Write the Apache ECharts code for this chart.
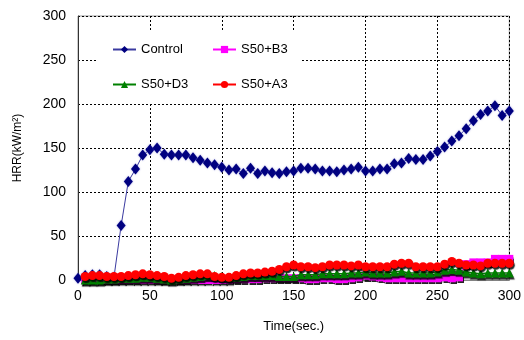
<!DOCTYPE html>
<html>
<head>
<meta charset="utf-8">
<script src="https://cdn.jsdelivr.net/npm/echarts@6/dist/echarts.min.js"></script>
<style>
  html, body { margin: 0; padding: 0; background: #fff; }
  #chart { width: 524px; height: 340px; }
</style>
</head>
<body>
<div id="chart"></div>
<script>
// time axis (sec.)
const time = [
  0, 5, 10, 15, 20, 25, 30, 35, 40, 45,
  50, 55, 60, 65, 70, 75, 80, 85, 90, 95,
  100, 105, 110, 115, 120, 125, 130, 135, 140, 145,
  150, 155, 160, 165, 170, 175, 180, 185, 190, 195,
  200, 205, 210, 215, 220, 225, 230, 235, 240, 245,
  250, 255, 260, 265, 270, 275, 280, 285, 290, 295,
  300
]

const control = [
  2, 5, 6, 6, 4, 3, 62, 112, 126, 142,
  148, 150, 143, 142, 142, 142, 139, 136, 133, 131,
  128, 125, 126, 121, 127, 121, 124, 122, 121, 123,
  124, 127, 127, 126, 124, 124, 123, 125, 126, 128,
  124, 124, 126, 126, 132, 133, 138, 137, 137, 141,
  146, 151, 158, 164, 172, 181, 188, 192, 198, 187,
  192
]

const s50b3 = [
  null, 0, 0, 0, 0, 0, 0, 0, 0, 0,
  0, 0, 0, 0, 0, 0, 0, 0, 0, 0,
  0, 0, 1, 1, 1, 1, 2, 2, 2, 2,
  2, 2, 1, 1, 2, 2, 1, 1, 2, 3,
  5, 4, 3, 2, 2, 2, 2, 2, 2, 2,
  2, 3, 2, 3, 18, 20, 20, 20, 24, 24,
  24
]

const s50d3 = [
  null, 0, 0, 0, 1, 1, 2, 2, 2, 3,
  3, 2, 1, 0, 1, 2, 3, 4, 5, 5,
  4, 3, 3, 4, 5, 5, 5, 5, 4, 4,
  4, 6, 6, 6, 7, 7, 7, 7, 8, 8,
  9, 8, 8, 8, 9, 10, 8, 8, 8, 8,
  9, 11, 12, 11, 9, 8, 7, 8, 8, 8,
  8
]

const s50a3 = [
  null, 4, 5, 5, 4, 4, 4, 5, 6, 7,
  6, 5, 4, 2, 3, 5, 6, 7, 7, 4,
  3, 3, 5, 7, 8, 8, 9, 10, 12, 15,
  17, 15, 15, 14, 15, 17, 17, 17, 16, 17,
  15, 15, 15, 15, 18, 19, 19, 15, 15, 15,
  15, 18, 21, 19, 17, 17, 16, 19, 19, 19,
  19
]

const yTicks = [0, 50, 100, 150, 200, 250, 300]

function pairs(vals) {
  return time.map((t, i) => [t, vals[i] == null ? '-' : vals[i]])
}

const shadow = {
  shadowColor: 'rgba(0,0,0,0.85)',
  shadowOffsetX: 1,
  shadowOffsetY: 2,
  shadowBlur: 1
}

const chart = echarts.init(document.getElementById('chart'), null, { renderer: 'canvas' })

const font = 'Liberation Sans, Arial, sans-serif'

// two legend columns, white boxes cover the grid lines like the original
function legendCol(left, names) {
  return {
    orient: 'vertical',
    left: left,
    top: 32,
    padding: [11, 14],
    itemGap: 22,
    itemWidth: 23,
    itemHeight: 9,
    backgroundColor: '#fff',
    textStyle: { fontFamily: font, fontSize: 13, color: '#000' },
    data: names
  }
}

const option = {
  animation: false,
  backgroundColor: '#fff',
  grid: {
    left: 78, right: 13, top: 16, bottom: 60,
    show: true,
    borderColor: '#999',
    borderWidth: 1
  },
  legend: [
    legendCol(98, ['Control', 'S50+D3']),
    legendCol(198, ['S50+B3', 'S50+A3'])
  ],
  xAxis: {
    type: 'value',
    min: 0, max: 300, interval: 50,
    name: 'Time(sec.)',
    nameLocation: 'middle',
    nameGap: 40,
    nameTextStyle: { fontFamily: font, fontSize: 13, color: '#000' },
    axisLine: { show: true, lineStyle: { color: '#888', width: 1 } },
    axisTick: { show: false },
    axisLabel: { fontFamily: font, fontSize: 14, color: '#000', margin: 9 },
    splitLine: { show: true, lineStyle: { color: '#000', type: [2, 2], width: 1 } }
  },
  yAxis: {
    type: 'value',
    min: yTicks[0], max: yTicks[yTicks.length - 1], interval: 50,
    name: 'HRR(kW/m²)',
    nameLocation: 'middle',
    nameGap: 54,
    nameRotate: 90,
    nameTextStyle: { fontFamily: font, fontSize: 12, color: '#000' },
    axisLine: { show: true, lineStyle: { color: '#333', width: 1 } },
    axisTick: { show: false },
    axisLabel: { fontFamily: font, fontSize: 14, color: '#000', margin: 12 },
    splitLine: { show: true, lineStyle: { color: '#000', type: [2, 2], width: 1 } }
  },
  series: [
    {
      name: 'Control',
      type: 'line',
      data: pairs(control),
      symbol: 'diamond',
      symbolSize: [9, 11],
      color: '#000080',
      lineStyle: { width: 1, color: '#3a3aa0' },
      itemStyle: { color: '#000080', shadowColor: 'rgba(90,90,200,0.6)', shadowBlur: 2 },
      clip: false,
      z: 2
    },
    {
      name: 'S50+B3',
      type: 'line',
      data: pairs(s50b3),
      symbol: 'rect',
      symbolSize: 8,
      color: '#ff00ff',
      lineStyle: Object.assign({ width: 1.5, color: '#ff00ff' }, shadow),
      itemStyle: Object.assign({ color: '#ff00ff' }, shadow),
      clip: false,
      z: 3
    },
    {
      name: 'S50+D3',
      type: 'line',
      data: pairs(s50d3),
      symbol: 'triangle',
      symbolSize: 9,
      color: '#008000',
      lineStyle: Object.assign({ width: 1.5, color: '#008000' }, shadow),
      itemStyle: Object.assign({ color: '#008000' }, shadow),
      clip: false,
      z: 4
    },
    {
      name: 'S50+A3',
      type: 'line',
      data: pairs(s50a3),
      symbol: 'circle',
      symbolSize: 9,
      color: '#ff0000',
      lineStyle: Object.assign({ width: 1.5, color: '#ff0000' }, shadow),
      itemStyle: Object.assign({ color: '#ff0000' }, shadow),
      clip: false,
      z: 5
    }
  ]
}

chart.setOption(option)
</script>
</body>
</html>
